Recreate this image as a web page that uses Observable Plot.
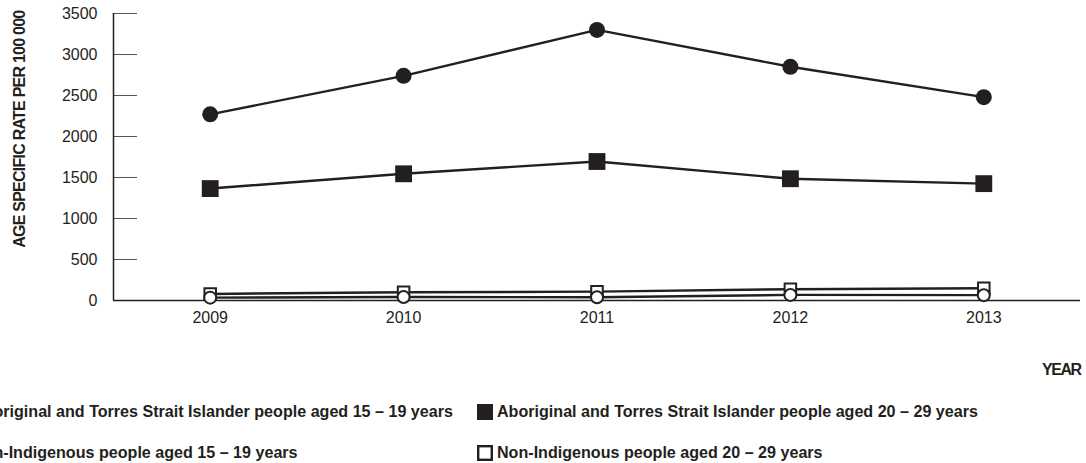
<!DOCTYPE html>
<html>
<head>
<meta charset="utf-8">
<script src="https://cdn.jsdelivr.net/npm/d3@7"></script>
<script src="https://cdn.jsdelivr.net/npm/@observablehq/plot@0.6"></script>
<style>
  html, body { margin: 0; padding: 0; background: #fff; }
  #wrap { position: relative; width: 1086px; height: 463px; overflow: hidden; font-family: "Liberation Sans", Arial, sans-serif; color: #231f20; }
  #legend { position: absolute; left: 0; top: 0; width: 1086px; height: 463px; pointer-events: none; }
  .item { position: absolute; display: flex; align-items: center; font-weight: bold; font-size: 16.1px; white-space: nowrap; }
  .item svg { margin-right: 4px; }
</style>
</head>
<body>
<div id="wrap"><div id="chart"></div><div id="legend"></div></div>
<script>
const years = [2009, 2010, 2011, 2012, 2013];
const atsi1519 = [2270, 2740, 3300, 2850, 2480];
const atsi2029 = [1365, 1545, 1695, 1485, 1425];
const nonInd2029 = [80, 100, 108, 138, 150];
const nonInd1519 = [35, 42, 40, 68, 65];
const yTicks = [0, 500, 1000, 1500, 2000, 2500, 3000, 3500];
const xDomain = [2008.5, 2013.5];
const yDomain = [0, 3500];
const seriesNames = [
  "Aboriginal and Torres Strait Islander people aged 15 \u2013 19 years",
  "Aboriginal and Torres Strait Islander people aged 20 \u2013 29 years",
  "Non-Indigenous people aged 15 \u2013 19 years",
  "Non-Indigenous people aged 20 \u2013 29 years"
];
const yLabel = "AGE SPECIFIC RATE PER 100 000";
const xLabel = "YEAR";

const ink = "#231f20";
const rows = (vals, s) => years.map((y, i) => ({year: y, value: vals[i], series: s}));
const dA1 = rows(atsi1519, seriesNames[0]);
const dA2 = rows(atsi2029, seriesNames[1]);
const dN1 = rows(nonInd1519, seriesNames[2]);
const dN2 = rows(nonInd2029, seriesNames[3]);

const chart = Plot.plot({
  width: 1086,
  height: 385,
  marginLeft: 113,
  marginRight: 6,
  marginTop: 13,
  marginBottom: 85,
  style: {fontFamily: '"Liberation Sans", Arial, sans-serif', color: ink, background: "#fff"},
  x: {domain: xDomain},
  y: {domain: yDomain},
  marks: [
    Plot.axisY({ticks: yTicks, tickSize: 24, dx: 24, tickPadding: 16, tickFormat: d => String(d), label: null, fontSize: 16, stroke: "#555", strokeWidth: 1}),
    Plot.axisX({ticks: years, tickSize: 0, tickPadding: 11, tickFormat: d => String(d), label: null, fontSize: 16}),
    Plot.ruleX([xDomain[0]], {stroke: ink, strokeWidth: 1.5}),
    Plot.ruleY([0], {stroke: ink, strokeWidth: 1.5}),
    Plot.lineY(dA1, {x: "year", y: "value", stroke: ink, strokeWidth: 2.4}),
    Plot.dot(dA1, {x: "year", y: "value", r: 8, fill: ink, stroke: "none", symbol: "circle"}),
    Plot.lineY(dA2, {x: "year", y: "value", stroke: ink, strokeWidth: 2.4}),
    Plot.dot(dA2, {x: "year", y: "value", r: 9.5, fill: ink, stroke: "none", symbol: "square"}),
    Plot.lineY(dN2, {x: "year", y: "value", stroke: ink, strokeWidth: 2.4}),
    Plot.dot(dN2, {x: "year", y: "value", r: 6.5, fill: "#fff", stroke: ink, strokeWidth: 2, symbol: "square"}),
    Plot.lineY(dN1, {x: "year", y: "value", stroke: ink, strokeWidth: 2.4}),
    Plot.dot(dN1, {x: "year", y: "value", r: 6, fill: "#fff", stroke: ink, strokeWidth: 2, symbol: "circle"}),
    Plot.text([yLabel], {frameAnchor: "top-left", dx: -94, dy: -3, rotate: -90, textAnchor: "end", lineAnchor: "middle", fontWeight: "bold", fontSize: 16, fill: ink}),
    Plot.text([xLabel], {frameAnchor: "bottom-right", dy: 69, textAnchor: "end", lineAnchor: "middle", fontWeight: "bold", fontSize: 16, fill: ink})
  ]
});
// condense the two axis titles to match the reference's narrow type
d3.select(chart).selectAll("text").each(function() {
  const t = this.textContent;
  if (t === yLabel) this.style.letterSpacing = "-0.76px";
  if (t === xLabel) this.style.letterSpacing = "-1.5px";
});
document.getElementById("chart").appendChild(chart);

// Legend (HTML, below the chart area)
const legend = document.getElementById("legend");
const markers = [
  '<svg width="16" height="16"><circle cx="8" cy="8" r="7.5" fill="' + ink + '"/></svg>',
  '<svg width="16" height="16"><rect x="0" y="0" width="16" height="16" fill="' + ink + '"/></svg>',
  '<svg width="16" height="16"><circle cx="8" cy="8" r="6.5" fill="#fff" stroke="' + ink + '" stroke-width="2"/></svg>',
  '<svg width="16" height="16"><rect x="1.2" y="1.2" width="13.6" height="13.6" fill="#fff" stroke="' + ink + '" stroke-width="2.4"/></svg>'
];
const pos = [[-48, 402], [477, 402], [-48, 443], [477, 443]];
seriesNames.forEach((name, i) => {
  const el = document.createElement("div");
  el.className = "item";
  el.style.left = pos[i][0] + "px";
  el.style.top = pos[i][1] + "px";
  el.innerHTML = markers[i] + '<span>' + name + '</span>';
  legend.appendChild(el);
});
</script>
</body>
</html>
